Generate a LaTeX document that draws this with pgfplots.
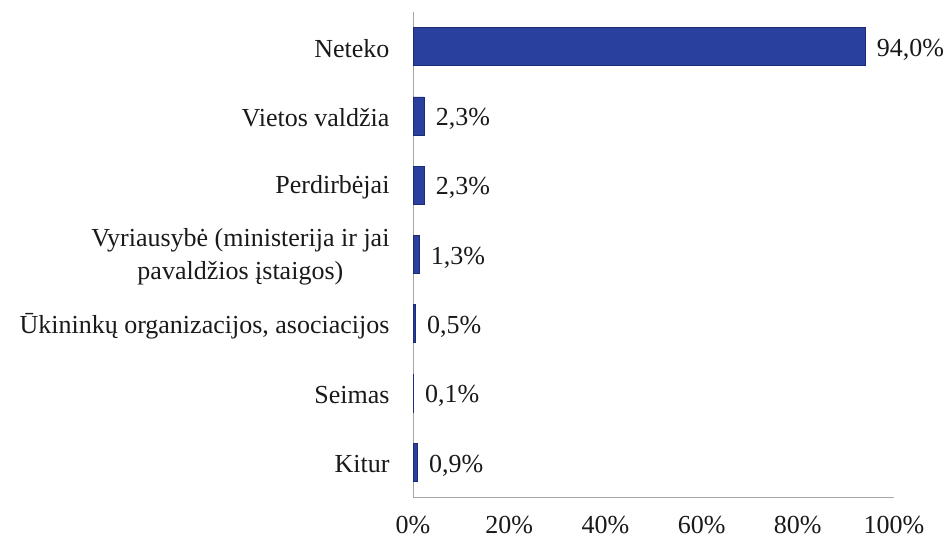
\documentclass[border=0pt]{standalone}
\usepackage{fontspec}
\setmainfont{Liberation Serif}
\usepackage{pgfplots}
\pgfplotsset{compat=1.18}
\definecolor{barblue}{RGB}{42,64,158}
\definecolor{barbot}{RGB}{28,42,120}
\definecolor{axgray}{RGB}{166,166,166}
\definecolor{txt}{RGB}{25,25,25}
\begin{document}
\begin{tikzpicture}[font=\fontsize{26}{33}\selectfont]
\useasboundingbox (0,0) rectangle (952pt,538pt);
\begin{axis}[
  at={(413pt,41pt)}, anchor=south west,
  scale only axis, width=481pt, height=485pt,
  xmin=0, xmax=100, ymin=-0.5, ymax=6.5,
  xbar, bar width=38pt,
  axis x line*=bottom, axis y line*=left,
  axis line style={draw=axgray, line width=1pt, -},
  major tick length=0pt,
  xtick={0,20,...,100},
  xticklabels={0\%,20\%,40\%,60\%,80\%,100\%},
  ytick={0,...,6},
  yticklabels={Kitur, Seimas, {Ūkininkų organizacijos, asociacijos}, {Vyriausybė (ministerija ir jai\\pavaldžios įstaigos)}, Perdirbėjai, Vietos valdžia, Neteko},
  yticklabel style={align=center, xshift=-20pt, yshift=-2pt, text=txt},
  xticklabel style={yshift=-16pt, text=txt},
  /pgf/number format/assume math mode=true,
  point meta=x,
  nodes near coords={\pgfmathprintnumber[fixed,fixed zerofill,precision=1,use comma]{\pgfplotspointmeta}\%},
  nodes near coords align=horizontal,
  every node near coord/.append style={anchor=west, xshift=8pt, yshift=-3pt, text=txt},
]
\addplot[draw=barbot, line width=0.8pt, fill=barblue] coordinates {
  (0.9,0)
  (0.1,1)
  (0.5,2)
  (1.3,3)
  (2.3,4)
  (2.3,5)
  (94.0,6)
};
\end{axis}
\end{tikzpicture}
\end{document}
